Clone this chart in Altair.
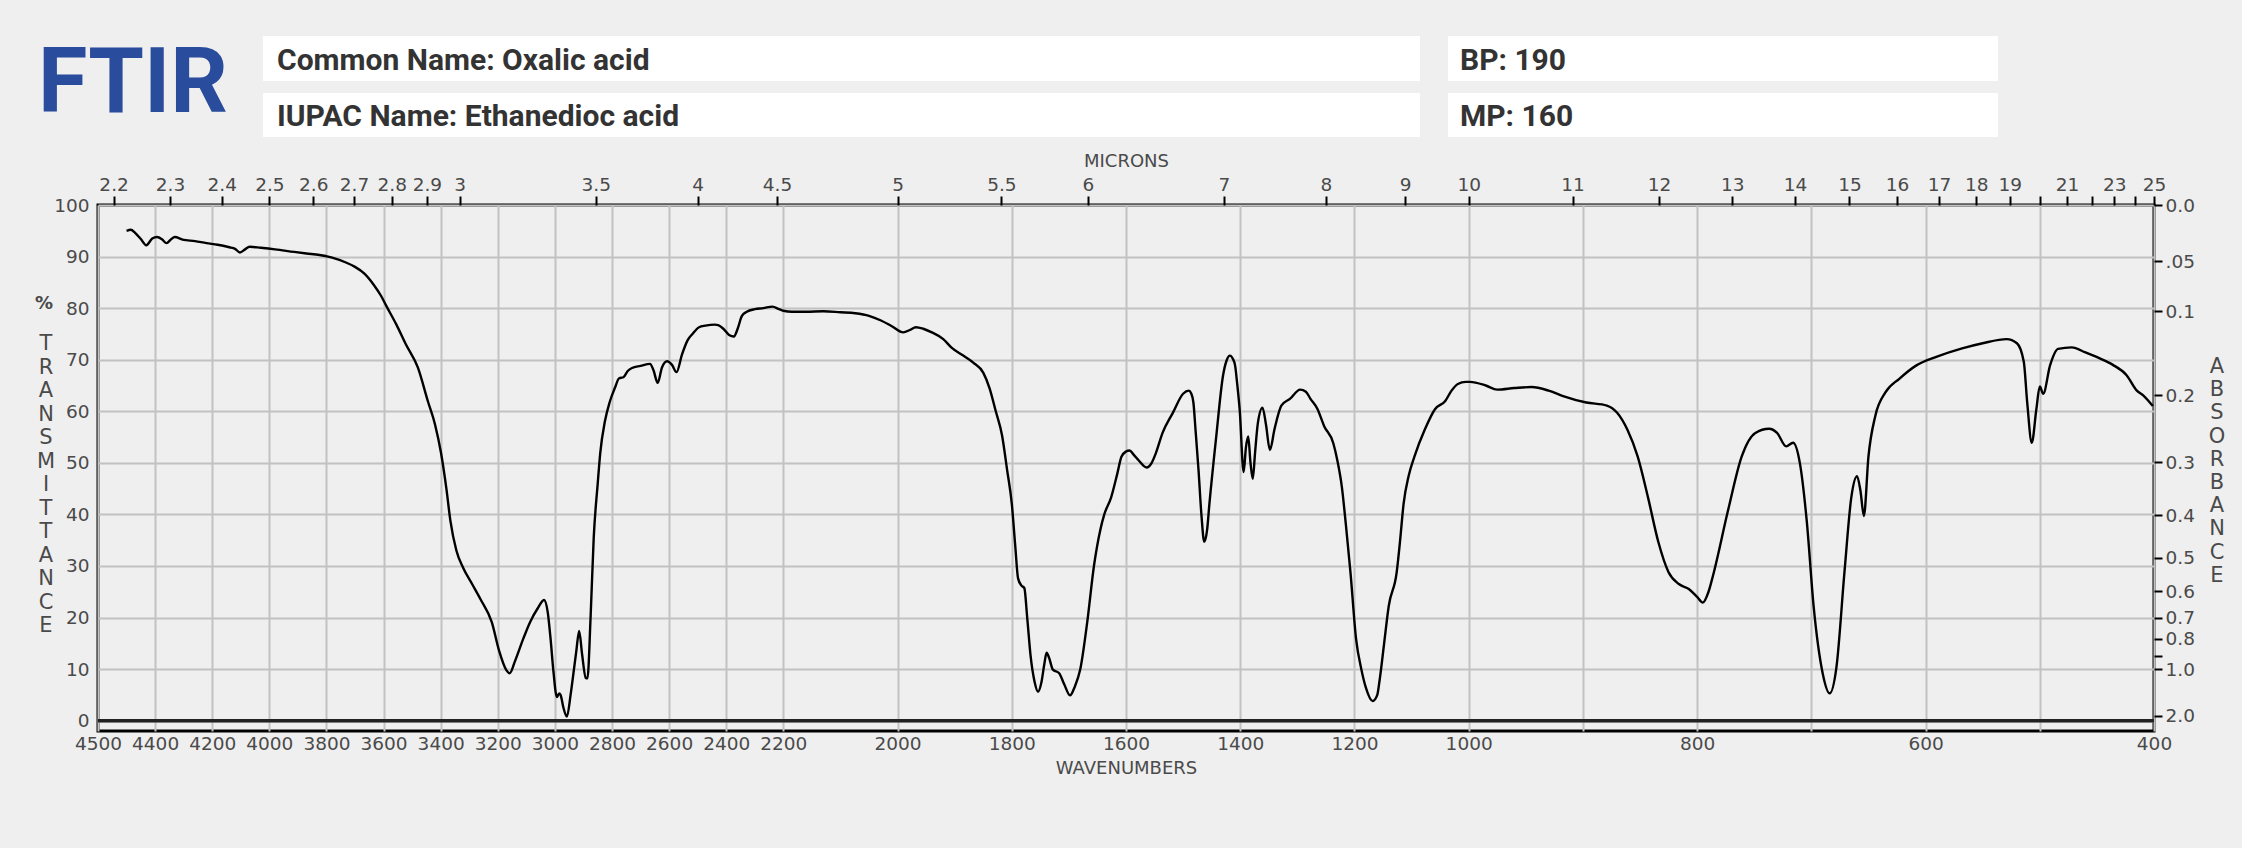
import altair as alt
import pandas as pd

# ---------------- data ----------------
wavenumber = [
    4500, 4485, 4470, 4450, 4431, 4410, 4393, 4375, 4360, 4345, 4331, 4304, 4260, 4220, 4181,
    4140, 4120, 4103, 4085, 4069, 4030, 3980, 3913, 3870, 3824, 3780, 3734, 3700, 3667, 3634,
    3610, 3589, 3555, 3522, 3480, 3444, 3420, 3399, 3380, 3366, 3345, 3321, 3290, 3260, 3221,
    3195, 3170, 3158, 3140, 3110, 3087, 3060, 3038, 3025, 3015, 3005, 2993, 2985, 2980, 2970,
    2958, 2945, 2935, 2925, 2915, 2905, 2892, 2886, 2875, 2864, 2850, 2841, 2825, 2808, 2790,
    2775, 2760, 2745, 2730, 2700, 2667, 2655, 2640, 2625, 2607, 2590, 2574, 2555, 2535, 2518,
    2495, 2473, 2440, 2428, 2410, 2390, 2373, 2360, 2345, 2328, 2300, 2270, 2238, 2215, 2200,
    2185, 2160, 2130, 2100, 2074, 2050, 2029, 2010, 1990, 1978, 1968, 1955, 1940, 1920, 1906,
    1885, 1867, 1850, 1839, 1828, 1817, 1808, 1800, 1794, 1789, 1783, 1778, 1773, 1767, 1760,
    1754, 1748, 1743, 1739, 1735, 1728, 1717, 1708, 1698, 1690, 1680, 1668, 1656, 1645, 1638,
    1626, 1615, 1608, 1600, 1594, 1586, 1578, 1564, 1555, 1548, 1536, 1518, 1500, 1490, 1486,
    1482, 1478, 1473, 1468, 1463, 1458, 1454, 1442, 1430, 1424, 1418, 1413, 1409, 1405, 1401,
    1394, 1390, 1386, 1382, 1378, 1374, 1369, 1361, 1355, 1348, 1340, 1328, 1313, 1295, 1285,
    1277, 1265, 1253, 1237, 1230, 1222, 1215, 1207, 1197, 1188, 1180, 1168, 1160, 1156, 1148,
    1140, 1126, 1120, 1114, 1105, 1095, 1077, 1059, 1041, 1030, 1019, 1005, 999, 985, 975,
    960, 945, 930, 918, 897, 879, 870, 861, 852, 843, 834, 825, 816, 807, 800,
    795, 790, 786, 773, 761, 749, 737, 730, 722, 716, 710, 704, 698, 690, 684,
    678, 671, 665, 660, 657, 654, 650, 644, 635, 623, 608, 590, 568, 550, 529,
    520, 514, 511, 507, 503, 500, 497, 491, 484, 472, 460, 448, 436, 424, 415,
    409, 401,
]
transmittance = [
    95.0, 95.2, 94.6, 93.4, 92.2, 93.5, 93.8, 93.3, 92.6, 93.3, 93.8, 93.3, 93.0, 92.6, 92.3,
    91.8, 91.5, 90.8, 91.4, 91.9, 91.7, 91.4, 90.9, 90.6, 90.3, 89.8, 88.9, 88.0, 86.7, 84.5,
    82.5, 80.3, 76.8, 73.0, 68.5, 61.8, 57.5, 52.0, 45.0, 38.8, 33.0, 29.6, 26.5, 23.5, 19.1,
    13.5, 9.8, 9.2, 11.5, 16.0, 19.1, 21.8, 23.4, 21.0, 15.8, 9.5, 4.6, 5.3, 5.0, 2.5,
    0.8, 5.0, 9.2, 13.5, 17.4, 13.0, 8.3, 8.2, 20.0, 35.5, 46.0, 52.0, 58.0, 61.8, 64.5,
    66.4, 66.6, 67.8, 68.4, 68.8, 69.2, 68.0, 65.5, 68.5, 69.7, 69.0, 67.6, 71.0, 73.8, 75.0,
    76.3, 76.6, 76.8, 76.7, 76.0, 74.8, 74.5, 76.0, 78.5, 79.3, 79.8, 80.0, 80.3, 79.8, 79.5,
    79.3, 79.3, 79.4, 79.2, 79.0, 78.5, 77.6, 76.5, 75.3, 75.8, 76.3, 76.0, 75.3, 74.0, 72.4,
    70.8, 69.4, 67.5, 64.5, 60.0, 55.3, 48.5, 42.1, 34.0, 27.6, 26.2, 25.7, 20.0, 12.5, 7.5,
    5.6, 7.5, 11.0, 13.2, 12.3, 9.9, 9.2, 7.0, 4.9, 6.5, 10.0, 19.0, 30.1, 37.0, 40.0,
    43.3, 48.0, 51.2, 52.2, 52.4, 51.5, 50.5, 49.1, 50.0, 51.8, 55.8, 59.7, 63.4, 64.0, 63.5,
    61.7, 56.0, 48.6, 40.0, 34.7, 37.0, 42.0, 55.1, 67.0, 69.8, 70.8, 70.2, 68.9, 65.0, 60.4,
    48.2, 53.0, 55.1, 50.0, 46.9, 52.0, 57.8, 60.7, 57.5, 52.5, 56.5, 61.1, 62.4, 64.2, 63.8,
    62.4, 60.5, 57.1, 53.8, 50.5, 45.3, 38.0, 28.8, 15.7, 10.0, 6.4, 3.8, 5.0, 7.8, 15.0,
    22.2, 28.8, 35.0, 42.0, 47.5, 51.2, 56.4, 60.4, 62.0, 64.0, 65.3, 65.7, 65.7, 65.0, 64.2,
    64.5, 64.7, 64.0, 63.0, 61.7, 61.1, 59.7, 56.4, 51.2, 43.3, 34.7, 28.8, 26.5, 25.5, 24.0,
    22.9, 25.0, 28.2, 40.7, 51.2, 55.8, 56.6, 55.8, 53.2, 53.9, 49.9, 38.7, 22.2, 9.1, 5.3,
    10.4, 28.8, 43.3, 47.4, 44.6, 39.7, 51.2, 59.1, 63.7, 66.3, 68.9, 70.6, 72.2, 73.2, 74.0,
    73.2, 69.6, 61.7, 53.9, 60.4, 64.8, 63.4, 68.9, 72.1, 72.4, 71.4, 70.3, 69.0, 67.0, 64.0,
    63.0, 61.0,
]

# axis definitions
scale_breaks = [4600, 2200, 1000, 400]          # x scale changes 1:2:4 at these wavenumbers
bottom_ticks = [4600, 4400, 4200, 4000, 3800, 3600, 3400, 3200, 3000, 2800, 2600, 2400, 2200,
                2000, 1800, 1600, 1400, 1200, 1000, 900, 800, 700, 600, 500, 400]
bottom_labels = ["4500", "4400", "4200", "4000", "3800", "3600", "3400", "3200", "3000", "2800",
                 "2600", "2400", "2200", "2000", "1800", "1600", "1400", "1200", "1000", "",
                 "800", "", "600", "", "400"]
micron_ticks = [2.2, 2.3, 2.4, 2.5, 2.6, 2.7, 2.8, 2.9, 3, 3.5, 4, 4.5, 5, 5.5, 6, 7, 8, 9, 10,
                11, 12, 13, 14, 15, 16, 17, 18, 19, 20, 21, 22, 23, 24, 25]
micron_labels = ["2.2", "2.3", "2.4", "2.5", "2.6", "2.7", "2.8", "2.9", "3", "3.5", "4", "4.5",
                 "5", "5.5", "6", "7", "8", "9", "10", "11", "12", "13", "14", "15", "16", "17",
                 "18", "19", "", "21", "", "23", "", "25"]
t_ticks = [0, 10, 20, 30, 40, 50, 60, 70, 80, 90, 100]
absorbance_ticks = [0.0, 0.05, 0.1, 0.2, 0.3, 0.4, 0.5, 0.6, 0.7, 0.8, 0.9, 1.0, 2.0]
absorbance_labels = ["0.0", ".05", "0.1", "0.2", "0.3", "0.4", "0.5", "0.6", "0.7", "0.8", "",
                     "1.0", "2.0"]

common_name = "Common Name: Oxalic acid"
iupac_name = "IUPAC Name: Ethanedioc acid"
bp_text = "BP: 190"
mp_text = "MP: 160"

# ---------------- layout / style ----------------
W, H = 2056, 526
BG = "#efefef"
LABEL_FONT = "DejaVu Sans"
LABEL_COLOR = "#4a4a4a"
LABEL_SIZE = 18.5
GRID = "#c2c2c2"
HEAD_FONT = "Roboto"


def label_expr(values, labels, tol):
    expr = "''"
    for v, lab in reversed(list(zip(values, labels))):
        expr = f"abs(datum.value - {v:.6f}) < {tol} ? '{lab}' : ({expr})"
    return expr


micron_wn = [10000.0 / m for m in micron_ticks]
absorb_t = [100.0 * 10 ** (-a) for a in absorbance_ticks]

x_scale = alt.Scale(domain=scale_breaks, range=[0, W / 3, 2 * W / 3, W], nice=False, zero=False)
y_scale = alt.Scale(domain=[-2, 100], nice=False, zero=False)

df = pd.DataFrame({"wn": wavenumber, "T": transmittance})
one = pd.DataFrame({"k": [0]})

axis_common = dict(labelFont=LABEL_FONT, labelFontSize=LABEL_SIZE, labelColor=LABEL_COLOR,
                   labelOverlap=False, labelFlush=False, domain=False,
                   titleFont=LABEL_FONT, titleFontSize=18, titleFontWeight="normal",
                   titleColor=LABEL_COLOR)

spectrum = alt.Chart(df).mark_line(color="black", strokeWidth=2.4, interpolate="monotone").encode(
    x=alt.X("wn:Q", scale=x_scale,
            axis=alt.Axis(orient="bottom", values=bottom_ticks,
                          labelExpr=label_expr(bottom_ticks, bottom_labels, 0.5),
                          grid=True, gridColor=GRID, gridWidth=2, ticks=False, labelPadding=3,
                          title="WAVENUMBERS", titlePadding=7, **axis_common)),
    y=alt.Y("T:Q", scale=y_scale,
            axis=alt.Axis(orient="left", values=t_ticks, grid=True, gridColor=GRID, gridWidth=2,
                          ticks=False, labelPadding=9, title=None, **axis_common)),
)

second_axes = alt.Chart(df).mark_line(strokeOpacity=0).encode(
    x=alt.X("wn:Q", scale=x_scale,
            axis=alt.Axis(orient="top", values=micron_wn,
                          labelExpr=label_expr(micron_wn, micron_labels, 0.01),
                          grid=False, ticks=True, tickSize=9, tickWidth=2, tickColor="black",
                          labelPadding=2, title="MICRONS", titlePadding=5, **axis_common)),
    y=alt.Y("T:Q", scale=y_scale,
            axis=alt.Axis(orient="right", values=absorb_t,
                          labelExpr=label_expr(absorb_t, absorbance_labels, 0.001),
                          grid=False, ticks=True, tickSize=8, tickWidth=2, tickColor="black",
                          labelPadding=3, title=None, **axis_common)),
)

zero_line = alt.Chart(one).mark_rule(color="#222222", strokeWidth=3.5).encode(
    y=alt.YDatum(0, scale=y_scale, axis=None))


def box(x1, x2, y1, y2):
    return alt.Chart(one).mark_rect(color="white").encode(
        x=alt.value(x1), x2=alt.value(x2), y=alt.value(y1), y2=alt.value(y2))


def head_text(txt, x, y):
    return alt.Chart(one).mark_text(align="left", baseline="alphabetic", font=HEAD_FONT,
                                    fontWeight="bold", fontSize=30, color="#333333").encode(
        x=alt.value(x), y=alt.value(y), text=alt.value(txt))


boxes = [box(165, 1322, -169, -124), box(165, 1322, -112, -68),
         box(1350, 1900, -169, -124), box(1350, 1900, -112, -68)]
texts = [head_text(common_name, 179, -135), head_text(iupac_name, 179, -79),
         head_text(bp_text, 1362, -135), head_text(mp_text, 1362, -79)]

ftir = alt.Chart(one).mark_text(align="left", baseline="alphabetic", font=HEAD_FONT,
                                fontWeight="bold", fontSize=90, color="#2a4c9c").encode(
    x=alt.value(-60), y=alt.value(-93), text=alt.value("FTIR"))

pct = alt.Chart(one).mark_text(align="center", baseline="middle", font=LABEL_FONT,
                               fontWeight="bold", fontSize=18, color=LABEL_COLOR).encode(
    x=alt.value(-54), y=alt.value(99), text=alt.value("%"))

trans = alt.Chart(one).mark_text(align="center", baseline="alphabetic", font=LABEL_FONT,
                                 fontSize=21, color=LABEL_COLOR, lineBreak="\n",
                                 lineHeight=23.5).encode(
    x=alt.value(-52), y=alt.value(145), text=alt.value("\n".join("TRANSMITTANCE")))

absorb = alt.Chart(one).mark_text(align="center", baseline="alphabetic", font=LABEL_FONT,
                                  fontSize=21, color=LABEL_COLOR, lineBreak="\n",
                                  lineHeight=23.2).encode(
    x=alt.value(2119), y=alt.value(168), text=alt.value("\n".join("ABSORBANCE")))

chart = alt.layer(
    spectrum, second_axes, zero_line, *boxes, *texts, ftir, pct, trans, absorb
).resolve_axis(x="independent", y="independent").properties(
    width=W, height=H,
    padding={"left": 98, "top": 205, "right": 2242 - 98 - W, "bottom": 848 - 205 - H},
    autosize=alt.AutoSizeParams(type="none"),
    background=BG,
).configure_view(stroke="black", strokeWidth=3, fill=BG)

chart.save("out.html", embed_options={"renderer": "svg", "actions": False})
